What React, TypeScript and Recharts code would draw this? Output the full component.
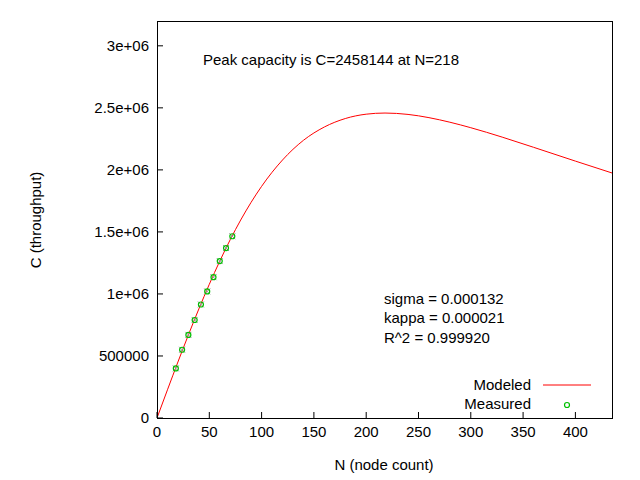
import React from "react";
import { ComposedChart, Line, Scatter, XAxis, YAxis } from "recharts";

// values
const modeledN = [0, 10, 20, 30, 40, 50, 60, 70, 80, 100, 120, 140, 160, 180, 200, 218, 240, 260, 280, 300, 330, 360, 400, 435];
const modeledC = [0, 227300, 451300, 669200, 878700, 1077600, 1264200, 1437100, 1595600, 1867200, 2079700, 2238200, 2345600, 2413800, 2448900, 2458100, 2447100, 2421000, 2384200, 2339900, 2264000, 2182100, 2070700, 1975000];
const measuredN = [18, 24, 30, 36, 42, 48, 54, 60, 66, 72];
const measuredC = [400000, 550000, 670000, 790000, 915000, 1020000, 1135000, 1265000, 1370000, 1465000];
const xTicks = [0, 50, 100, 150, 200, 250, 300, 350, 400];
const yTicks = [0, 500000, 1000000, 1500000, 2000000, 2500000, 3000000];

const modeled = modeledN.map((n, i) => ({ n, c: modeledC[i] }));
const measured = measuredN.map((n, i) => ({ n, c: measuredC[i] }));

const FONT = "'Liberation Sans', Arial, sans-serif";

const fmtY = (v: number) => {
  if (v === 0) return "0";
  if (v < 1000000) return String(v);
  return `${v / 1000000}e+06`;
};

const Pt = (props: any) => {
  const { cx, cy } = props;
  return (
    <g>
      <line x1={cx - 3} y1={cy - 3} x2={cx + 3} y2={cy + 3} stroke="#999" strokeWidth={1} />
      <line x1={cx - 3} y1={cy + 3} x2={cx + 3} y2={cy - 3} stroke="#999" strokeWidth={1} />
      <circle cx={cx} cy={cy} r={2.5} fill="none" stroke="#00c000" strokeWidth={1.2} />
    </g>
  );
};

const txt: React.CSSProperties = { position: "absolute", fontFamily: FONT, fontSize: 15, color: "#000", whiteSpace: "nowrap" };

export default function App() {
  return (
    <div style={{ position: "absolute", left: 0, top: 0, width: 640, height: 480, background: "#fff" }}>
      <ComposedChart width={640} height={480} margin={{ top: 21, right: 28, bottom: 32, left: 0 }} style={{ fontFamily: FONT }}>
        <XAxis dataKey="n" type="number" domain={[0, 435]} ticks={xTicks} allowDataOverflow height={30}
          tick={{ fontSize: 15, fill: "#000" }} tickSize={-6} tickMargin={14} axisLine={false} tickLine={{ stroke: "#000" }} />
        <YAxis dataKey="c" type="number" domain={[0, 3200000]} ticks={yTicks} tickFormatter={fmtY} width={157}
          tick={{ fontSize: 15, fill: "#000" }} tickSize={-6} tickMargin={14} axisLine={false} tickLine={{ stroke: "#000" }} />
        <Line data={modeled} dataKey="c" type="monotone" stroke="#ff0000" strokeWidth={1} dot={false} isAnimationActive={false} />
        <Scatter data={measured} dataKey="c" shape={Pt} isAnimationActive={false} />
      </ComposedChart>
      <svg style={{ position: "absolute", left: 0, top: 0 }} width={640} height={480} pointerEvents="none">
        <rect x={157.5} y={21.5} width={455} height={397} fill="none" stroke="#000" strokeWidth={1} />
        <line x1={543} y1={385} x2={591} y2={385} stroke="#ff0000" strokeWidth={1} />
        <circle cx={567} cy={405} r={2.5} fill="none" stroke="#00c000" strokeWidth={1.2} />
      </svg>
      <div style={{ ...txt, left: 203, top: 51 }}>Peak capacity is C=2458144 at N=218</div>
      <div style={{ ...txt, left: 384, top: 290 }}>sigma = 0.000132</div>
      <div style={{ ...txt, left: 384, top: 309 }}>kappa = 0.000021</div>
      <div style={{ ...txt, left: 384, top: 329 }}>R^2 = 0.999920</div>
      <div style={{ ...txt, right: 640 - 531, top: 376 }}>Modeled</div>
      <div style={{ ...txt, right: 640 - 531, top: 395 }}>Measured</div>
      <div style={{ ...txt, left: 384, top: 456, transform: "translateX(-50%)" }}>N (node count)</div>
      <div style={{ ...txt, left: 35, top: 220, transform: "translate(-50%, -50%) rotate(-90deg)" }}>C (throughput)</div>
    </div>
  );
}
